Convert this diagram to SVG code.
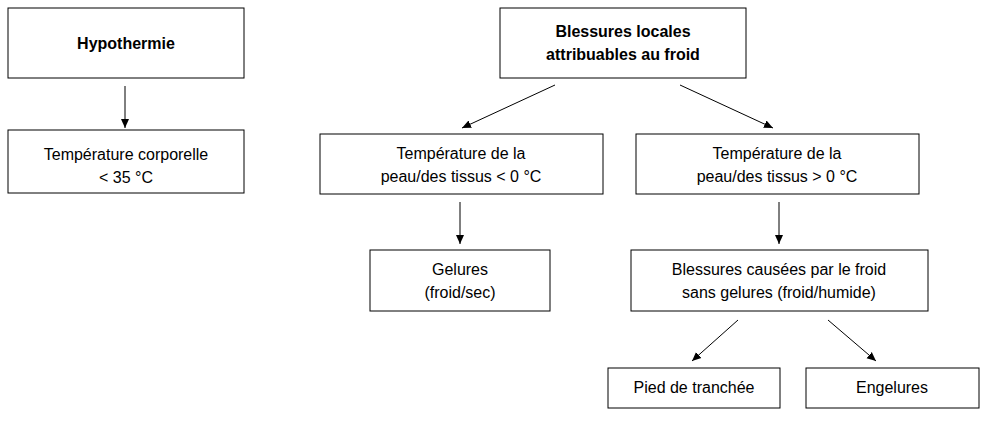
<svg xmlns="http://www.w3.org/2000/svg" width="990" height="421" viewBox="0 0 990 421">
<defs><marker id="a" markerWidth="10" markerHeight="10" refX="9" refY="5" orient="auto" markerUnits="userSpaceOnUse"><path d="M0,1 L9,5 L0,9 z" fill="#000"/></marker></defs>
<style>rect{fill:#fff;stroke:#000;stroke-width:1}text{font-family:"Liberation Sans",Arial,sans-serif;font-size:16px;text-anchor:middle}.b{font-weight:bold}line{stroke:#000;stroke-width:1;marker-end:url(#a)}</style>
<rect width="990" height="421" style="stroke:none"/>
<g id="hypo"><rect x="8" y="8" width="236" height="70"/><text class="b" x="126" y="49">Hypothermie</text></g>
<g id="temp"><rect x="8" y="130" width="236" height="63"/><text x="126" y="160">Température corporelle</text><text x="126" y="183">&lt; 35 °C</text></g>
<g id="bless"><rect x="500" y="8" width="246" height="70"/><text class="b" x="623" y="37">Blessures locales</text><text class="b" x="623" y="60">attribuables au froid</text></g>
<g id="t0"><rect x="320" y="134" width="283" height="60"/><text x="461" y="159">Température de la</text><text x="461" y="182">peau/des tissus &lt; 0 °C</text></g>
<g id="t1"><rect x="636" y="134" width="283" height="60"/><text x="777" y="159">Température de la</text><text x="777" y="182">peau/des tissus &gt; 0 °C</text></g>
<g id="gel"><rect x="370" y="250" width="180" height="61"/><text x="460" y="275">Gelures</text><text x="460" y="298">(froid/sec)</text></g>
<g id="bc"><rect x="631" y="250" width="297" height="61"/><text x="779" y="275">Blessures causées par le froid</text><text x="779" y="298">sans gelures (froid/humide)</text></g>
<g id="pied"><rect x="608" y="368" width="172" height="40"/><text x="694" y="393">Pied de tranchée</text></g>
<g id="eng"><rect x="806" y="368" width="173" height="40"/><text x="892" y="393">Engelures</text></g>
<g id="conn">
<line x1="125" y1="86" x2="125" y2="128"/>
<line x1="555" y1="85" x2="462" y2="128"/>
<line x1="680" y1="85" x2="773" y2="128"/>
<line x1="460" y1="202" x2="460" y2="244"/>
<line x1="779" y1="202" x2="779" y2="244"/>
<line x1="738" y1="320" x2="692" y2="361"/>
<line x1="828" y1="320" x2="876" y2="361"/>
</g>
</svg>
